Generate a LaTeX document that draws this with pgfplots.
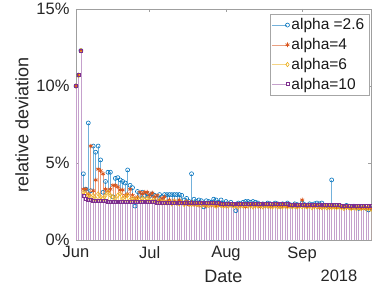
\documentclass[border=0pt]{standalone}
\usepackage{pgfplots}
\pgfplotsset{compat=1.18}
\usepackage{pgfplotstable}
\usepackage{fontspec}
\setmainfont{Liberation Sans}
\definecolor{c1}{rgb}{0,0.447,0.741}
\definecolor{c2}{rgb}{0.85,0.325,0.098}
\definecolor{c3}{rgb}{0.929,0.694,0.125}
\definecolor{c4}{rgb}{0.494,0.184,0.556}
\pgfplotstableread{
d a b c e
0 10.0 10.0 10.0 10.0
1 10.7 10.7 10.7 10.7
2 12.3 12.3 12.3 12.3
3 4.3 3.3 3.1 2.9
4 3.3 3.3 3.0 2.7
5 7.6 3.0 2.9 2.6
6 3.2 6.1 2.8 2.6
7 6.1 3.2 2.9 2.55
8 5.7 3.9 2.7 2.55
9 6.1 4.6 3.0 2.55
10 5.2 4.5 2.8 2.55
11 3.1 4.3 2.7 2.52
12 3.8 3.3 2.9 2.52
13 4.4 3.2 3.1 2.5
14 4.4 3.3 2.9 2.5
15 2.8 3.55 2.8 2.5
16 4.0 3.55 2.7 2.5
17 4.05 3.45 2.9 2.5
18 3.9 3.25 3.0 2.5
19 3.8 3.25 2.7 2.48
20 3.7 2.9 2.8 2.48
21 4.55 3.0 2.9 2.48
22 3.55 3.3 2.6 2.47
23 3.4 2.9 2.7 2.47
24 2.2 2.7 2.6 2.47
25 3.15 2.8 2.7 2.46
26 2.9 3.1 2.6 2.46
27 3.1 3.0 2.7 2.46
28 2.9 3.1 2.6 2.46
29 3.0 3.1 2.7 2.45
30 2.85 2.9 2.6 2.45
31 3.0 3.05 2.5 2.45
32 2.9 2.8 2.6 2.45
33 2.7 2.9 2.45 2.44
34 2.95 2.6 2.55 2.44
35 2.8 2.7 2.4 2.44
36 2.95 2.8 2.5 2.44
37 2.95 2.5 2.4 2.43
38 2.95 2.6 2.45 2.43
39 2.95 2.45 2.35 2.43
40 2.95 2.55 2.5 2.43
41 2.95 2.4 2.4 2.42
42 2.95 2.6 2.35 2.42
43 2.9 2.45 2.45 2.42
44 2.6 2.35 2.3 2.42
45 2.7 2.5 2.4 2.42
46 2.5 2.3 2.35 2.41
47 4.3 2.45 2.3 2.41
48 2.65 2.3 2.4 2.41
49 2.5 2.4 2.3 2.41
50 2.6 2.25 2.35 2.4
51 2.55 2.4 2.25 2.4
52 2.15 2.3 2.35 2.4
53 2.55 2.2 2.3 2.4
54 2.5 2.35 2.25 2.4
55 2.45 2.25 2.35 2.39
56 2.65 2.4 2.3 2.39
57 2.6 2.2 2.2 2.39
58 2.45 2.35 2.3 2.39
59 2.6 2.25 2.25 2.38
60 2.4 2.3 2.2 2.38
61 2.5 2.2 2.3 2.38
62 2.35 2.35 2.2 2.38
63 2.45 2.25 2.3 2.37
64 2.3 2.3 2.2 2.37
65 1.9 2.2 2.25 2.37
66 2.4 2.3 2.15 2.37
67 2.35 2.2 2.25 2.36
68 2.45 2.3 2.2 2.36
69 2.5 2.15 2.3 2.36
70 2.5 2.3 2.2 2.36
71 2.45 2.2 2.25 2.35
72 2.5 2.3 2.15 2.35
73 2.45 2.2 2.25 2.35
74 2.4 2.25 2.2 2.35
75 2.3 2.15 2.25 2.34
76 2.35 2.3 2.15 2.34
77 2.25 2.2 2.25 2.34
78 2.4 2.25 2.2 2.34
79 2.35 2.15 2.2 2.33
80 2.3 2.25 2.15 2.33
81 2.4 2.2 2.25 2.33
82 2.35 2.3 2.15 2.33
83 2.2 2.15 2.2 2.32
84 2.35 2.25 2.15 2.32
85 2.3 2.2 2.25 2.32
86 2.4 2.15 2.15 2.32
87 2.3 2.25 2.2 2.31
88 2.2 2.2 2.15 2.31
89 2.35 2.3 2.2 2.31
90 2.3 2.15 2.15 2.31
91 2.25 2.25 2.2 2.3
92 2.4 2.6 2.15 2.3
93 2.3 2.2 2.2 2.3
94 2.2 2.15 2.15 2.3
95 2.35 2.25 2.2 2.29
96 2.3 2.2 2.1 2.29
97 2.35 2.15 2.2 2.29
98 2.4 2.25 2.15 2.29
99 2.35 2.1 2.2 2.28
100 2.4 2.2 2.1 2.28
101 2.2 2.15 2.15 2.28
102 2.25 2.2 2.1 2.28
103 2.15 2.1 2.15 2.27
104 3.9 2.2 2.1 2.27
105 2.2 2.15 2.15 2.27
106 2.15 2.1 2.1 2.26
107 2.25 2.2 2.15 2.26
108 2.2 2.1 2.1 2.25
109 2.15 2.15 2.05 2.25
110 2.25 2.1 2.15 2.24
111 2.2 2.15 2.1 2.24
112 2.1 2.05 2.05 2.23
113 2.2 2.15 2.1 2.23
114 2.15 2.1 2.05 2.22
115 2.05 2.1 2.1 2.22
116 2.15 2.05 2.05 2.21
117 2.1 2.1 2.1 2.21
118 2.05 2.05 2.05 2.2
119 1.95 2.1 2.05 2.2
120 2.05 2.05 2.0 2.19
}\datatable
\begin{document}
\begin{tikzpicture}
\path[use as bounding box] (-76pt,-48pt) rectangle (296pt,240pt);
\begin{axis}[
  at={(0,0)}, anchor=south west,
  scale only axis, width=295pt, height=231pt,
  xmin=0, xmax=120, ymin=0, ymax=15,
  xtick={0,30,61,92}, xticklabels={Jun,Jul,Aug,Sep},
  ytick={0,5,10,15}, yticklabels={0\%,5\%,10\%,15\%},
  tick align=inside, major tick length=3pt,
  axis line style={gray!75, line width=0.5pt},
  tick style={gray!75, line width=0.5pt},
  ticklabel style={font=\fontsize{16.5}{18}\selectfont, text=black!85},
  xticklabel style={yshift=-3pt},
  yticklabel style={xshift=-3pt},
  every axis x label/.style={at={(axis description cs:0.5,-0.157)}, anchor=center, font=\fontsize{18}{20}\selectfont, text=black!85},
  every axis y label/.style={at={(axis description cs:-0.183,0.5)}, anchor=center, rotate=90, font=\fontsize{18}{20}\selectfont, text=black!85},
  xlabel={Date}, ylabel={relative deviation},
  legend style={at={(axis description cs:1,1)}, anchor=north east, xshift=-2pt, yshift=-5pt,
    draw=gray!70, font=\fontsize{15.5}{17}\selectfont, text=black!90, row sep=3pt, inner sep=2.5pt,
    cells={anchor=west}},
  legend image code/.code={\draw[#1, sharp plot, mark repeat=2, mark phase=2] plot coordinates {(0pt,0pt) (15pt,0pt)};},
]
\addplot[ycomb, color=c1!55, line width=0.5pt, mark=o, mark size=2pt, mark options={draw=c1, line width=0.6pt}] table[x=d, y=a] {\datatable};
\addlegendentry{alpha =2.6}
\addplot[ycomb, color=c2!55, line width=0.5pt, mark=asterisk, mark size=2.3pt, mark options={draw=c2, line width=0.7pt}] table[x=d, y=b] {\datatable};
\addlegendentry{alpha=4}
\addplot[ycomb, color=c3!55, line width=0.5pt, mark=diamond, mark size=2.2pt, mark options={draw=c3, line width=0.6pt}] table[x=d, y=c] {\datatable};
\addlegendentry{alpha=6}
\addplot[ycomb, color=c4!45, line width=0.5pt, mark=square, mark size=1.5pt, mark options={draw=c4, line width=0.6pt}] table[x=d, y=e] {\datatable};
\addlegendentry{alpha=10}
\end{axis}
\node[anchor=center, font=\fontsize{16.5}{18}\selectfont, text=black!85] at (263pt,-36pt) {2018};
\end{tikzpicture}
\end{document}
